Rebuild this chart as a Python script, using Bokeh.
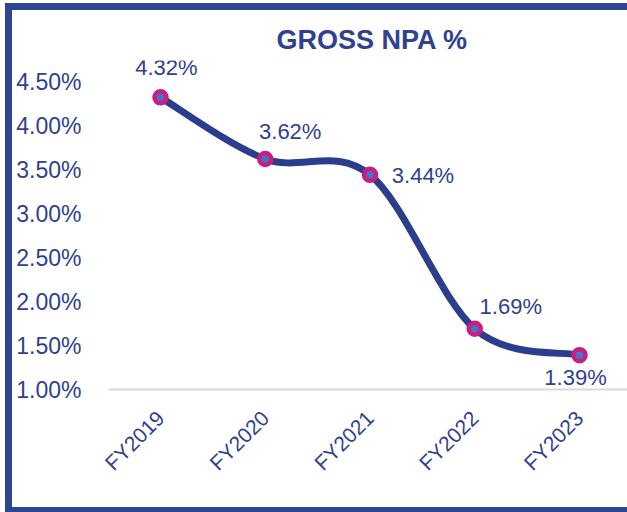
from bokeh.plotting import figure
from bokeh.models import ColumnDataSource, Range1d, FixedTicker, PrintfTickFormatter, LabelSet
from bokeh.core.properties import value
from bokeh.embed import file_html
from bokeh.resources import INLINE
import math

categories = ["FY2019", "FY2020", "FY2021", "FY2022", "FY2023"]
gross_npa = [4.32, 3.62, 3.44, 1.69, 1.39]
y_ticks = [1.0, 1.5, 2.0, 2.5, 3.0, 3.5, 4.0, 4.5]

# label placement in pixels (style only)
lab_dx = [6, 25, 53, 36, -4]
lab_dy = [30, 27, -1, 22, -22]

TEXT = "#2F4191"
BORDER = "#2E4593"
LINE = "#2B3E8E"
MAGENTA = "#C81E82"
INNER = "#4A72C4"
FONT = "Liberation Sans"

xs = list(range(len(categories)))

p = figure(width=627, height=512, output_backend="svg", toolbar_location=None,
           x_range=Range1d(-0.496, 4.458), y_range=Range1d(1.0, 4.739),
           min_border_left=108, min_border_right=0, min_border_top=60, min_border_bottom=123)
p.styles = {"box-shadow": f"inset 5px 3px 0 0 white, inset 12px 10px 0 0 {BORDER}, inset 0 -5px 0 0 {BORDER}"}
p.outline_line_color = None
p.background_fill_color = "white"
p.border_fill_color = None
p.grid.visible = False

p.title.text = "GROSS NPA %"
p.title.text_font = FONT
p.title.text_font_size = "27px"
p.title.text_font_style = "bold"
p.title.text_color = TEXT
p.title.align = "left"
p.title.offset = 168
p.title.standoff = 11

# smooth (Excel-style) curve through the data points
n = len(xs)
x0, y0, x1, y1, cx0, cy0, cx1, cy1 = [], [], [], [], [], [], [], []
for i in range(n - 1):
    pa = (xs[max(i - 1, 0)], gross_npa[max(i - 1, 0)])
    pb = (xs[i], gross_npa[i])
    pc = (xs[i + 1], gross_npa[i + 1])
    pd = (xs[min(i + 2, n - 1)], gross_npa[min(i + 2, n - 1)])
    x0.append(pb[0]); y0.append(pb[1]); x1.append(pc[0]); y1.append(pc[1])
    cx0.append(pb[0] + (pc[0] - pa[0]) / 6); cy0.append(pb[1] + (pc[1] - pa[1]) / 6)
    cx1.append(pc[0] - (pd[0] - pb[0]) / 6); cy1.append(pc[1] - (pd[1] - pb[1]) / 6)
p.bezier(x0=x0, y0=y0, x1=x1, y1=y1, cx0=cx0, cy0=cy0, cx1=cx1, cy1=cy1,
         line_color=LINE, line_width=7)

src = ColumnDataSource(dict(x=xs, y=gross_npa, lab=[f"{v:.2f}%" for v in gross_npa],
                            dx=lab_dx, dy=lab_dy))
p.scatter("x", "y", source=src, size=12, fill_color=INNER, line_color=MAGENTA, line_width=4.5)

labels = LabelSet(x="x", y="y", text="lab", source=src, x_offset="dx", y_offset="dy",
                  text_align="center", text_baseline="middle", text_color=TEXT,
                  text_font=value(FONT), text_font_size="22px")
p.add_layout(labels)

# axes
p.yaxis.ticker = FixedTicker(ticks=y_ticks)
p.yaxis.formatter = PrintfTickFormatter(format="%.2f%%")
p.yaxis.axis_line_color = None
p.yaxis.major_tick_line_color = None
p.yaxis.minor_tick_line_color = None
p.yaxis.major_label_standoff = 21
p.yaxis.major_label_text_color = TEXT
p.yaxis.major_label_text_font = FONT
p.yaxis.major_label_text_font_size = "23px"

p.xaxis.ticker = FixedTicker(ticks=xs)
p.xaxis.major_label_overrides = {i: c for i, c in enumerate(categories)}
p.xaxis.axis_line_color = "#D9D9D9"
p.xaxis.axis_line_width = 2
p.xaxis.major_tick_line_color = None
p.xaxis.minor_tick_line_color = None
p.xaxis.major_label_orientation = math.pi / 4
p.xaxis.major_label_standoff = 19
p.xaxis.major_label_text_color = TEXT
p.xaxis.major_label_text_font = FONT
p.xaxis.major_label_text_font_size = "21px"

open("out.html", "w").write(file_html(p, INLINE))
